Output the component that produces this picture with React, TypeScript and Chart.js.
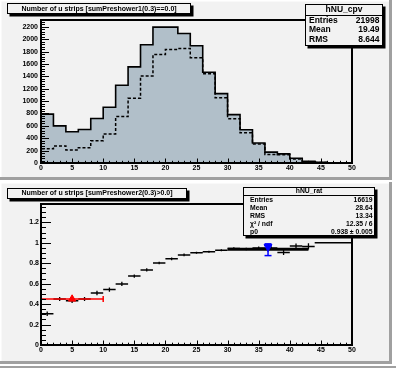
import React, { useEffect, useRef } from 'react';
import { Chart, registerables } from 'chart.js';
Chart.register(...registerables);

// ---------- data ----------
const BIN_EDGES = [0, 2, 4, 6, 8, 10, 12, 14, 16, 18, 20, 22, 24, 26, 28, 30, 32, 34, 36, 38, 40, 42, 44, 46, 48, 50];
const CPV_SOLID = [790, 600, 505, 540, 720, 900, 1255, 1552, 1910, 2195, 2195, 2092, 1895, 1465, 1120, 782, 536, 323, 175, 148, 77, 28, 11, 3, 0];
const CPV_DASHED = [230, 275, 208, 246, 358, 470, 750, 1046, 1406, 1752, 1834, 1848, 1702, 1440, 1054, 716, 487, 306, 137, 135, 65, 22, 8, 2, 0];
const X_TICKS = [0, 5, 10, 15, 20, 25, 30, 35, 40, 45, 50];
const Y_TICKS_TOP = [0, 200, 400, 600, 800, 1000, 1200, 1400, 1600, 1800, 2000, 2200];
const Y_TICKS_BOTTOM = [0, 0.2, 0.4, 0.6, 0.8, 1, 1.2];
const RAT_VALUES = [0.305, 0.45, 0.432, 0.45, 0.51, 0.542, 0.598, 0.675, 0.735, 0.803, 0.843, 0.882, 0.902, 0.912, 0.927, 0.945, 0.94, 0.95, 0.95, 0.905, 0.968, 0.965, 1.0, 1.0, 1.0];
const RAT_ERRORS = [0.022, 0.02, 0.02, 0.02, 0.022, 0.02, 0.02, 0.016, 0.016, 0.013, 0.013, 0.013, 0.01, 0.01, 0.01, 0.012, 0.012, 0.014, 0.016, 0.025, 0.025, 0.03, 0, 0, 0];
const FIT_X = [30, 43];
const FIT_P0 = 0.938;
const RED_X = [5];
const RED_Y = [0.45];
const RED_XERR = [5];
const BLUE_X = [36.5];
const BLUE_Y = [0.96];
const BLUE_YLO = [0.875];
const BLUE_YHI = [0.99];
const TOP_STATS = [['Entries', '21998'], ['Mean', '19.49'], ['RMS', '8.644']];
const BOTTOM_STATS = [['Entries', '16619'], ['Mean', '28.64'], ['RMS', '13.34'], ['\u03C7\u00B2 / ndf', '12.35 / 6'], ['p0', '0.938 \u00B1 0.005']];

// ---------- styles ----------
const BG = '#f2f2f2';
const BEVEL = '#a0a0a0';
const FILL = '#b1bfc9';
const FONT = '"Liberation Sans", Arial, sans-serif';

const fmt = (v: number) => String(Math.round(v * 100) / 100);

function histPoints(vals: number[]) {
  const pts: { x: number; y: number }[] = [{ x: BIN_EDGES[0], y: 0 }];
  vals.forEach((v, i) => pts.push({ x: BIN_EDGES[i], y: v }));
  pts.push({ x: BIN_EDGES[BIN_EDGES.length - 1], y: 0 });
  return pts;
}

type Deco = {
  padH: number; // pad height in canvas
  title: string; titleBox: [number, number, number, number]; titleY: number;
  statsName: string; stats: string[][]; statsBox: [number, number, number, number];
  headerLine: number; headerY: number; rowYs: number[]; labelX: number; valueX: number; statsFont: number;
  xMajorLen: number; xMinorLen: number; yMajorLen: number; yMinorLen: number;
  yMinorStep: number; yMax: number;
};

function decoPlugin(d: Deco) {
  return {
    id: 'deco',
    beforeDraw(chart: any) {
      const ctx = chart.ctx;
      const W = chart.width, H = chart.height;
      ctx.save();
      ctx.fillStyle = '#ffffff';
      ctx.fillRect(0, 0, W, H);
      ctx.fillStyle = BG;
      ctx.fillRect(0, 0, 392, d.padH);
      ctx.fillStyle = '#ffffff';
      ctx.fillRect(0, 0, 392, 1.5);
      ctx.fillRect(0, 0, 1.5, d.padH);
      ctx.fillStyle = BEVEL;
      ctx.fillRect(389, 0, 3, d.padH);
      ctx.fillRect(0, d.padH - 3, 392, 3);
      if (H > d.padH + 3) {
        ctx.fillRect(0, H - 2, W, 2);
      }
      ctx.restore();
    },
    afterDatasetsDraw(chart: any) {
      const ctx = chart.ctx;
      const a = chart.chartArea;
      const xs = chart.scales.x, ys = chart.scales.y;
      ctx.save();
      ctx.strokeStyle = '#000';
      ctx.lineWidth = 1;
      ctx.beginPath();
      for (let v = 0; v <= 50; v += 1) {
        const px = Math.round(xs.getPixelForValue(v)) + 0.5;
        const len = v % 5 === 0 ? d.xMajorLen : d.xMinorLen;
        ctx.moveTo(px, a.bottom);
        ctx.lineTo(px, a.bottom - len);
      }
      const nMinor = Math.floor(d.yMax / d.yMinorStep + 1e-6);
      const majorStep = Y_TICKS_BOTTOM.length && d.yMax < 10 ? 0.2 : 200;
      for (let i = 0; i <= nMinor; i++) {
        const v = i * d.yMinorStep;
        const py = Math.round(ys.getPixelForValue(v)) + 0.5;
        const isMajor = Math.abs(v / majorStep - Math.round(v / majorStep)) < 1e-6;
        ctx.moveTo(a.left, py);
        ctx.lineTo(a.left + (isMajor ? d.yMajorLen : d.yMinorLen), py);
      }
      ctx.stroke();
      ctx.lineWidth = 2;
      ctx.strokeRect(Math.round(a.left), Math.round(a.top), Math.round(a.right - a.left), Math.round(a.bottom - a.top));
      ctx.restore();
    },
    afterDraw(chart: any) {
      const ctx = chart.ctx;
      ctx.save();
      // title box
      const [tx, ty, tw, th] = d.titleBox;
      ctx.fillStyle = '#000';
      ctx.fillRect(tx + 2.5, ty + 2.5, tw, th);
      ctx.fillStyle = BG;
      ctx.fillRect(tx, ty, tw, th);
      ctx.strokeStyle = '#000';
      ctx.lineWidth = 1;
      ctx.strokeRect(tx + 0.5, ty + 0.5, tw - 1, th - 1);
      ctx.fillStyle = '#000';
      ctx.font = `bold 7px ${FONT}`;
      ctx.textAlign = 'center';
      ctx.textBaseline = 'middle';
      ctx.fillText(d.title, tx + tw / 2, d.titleY);
      // stats box
      const [sx, sy, sw, sh] = d.statsBox;
      ctx.fillStyle = '#000';
      ctx.fillRect(sx + 2.5, sy + 2.5, sw, sh);
      ctx.fillStyle = BG;
      ctx.fillRect(sx, sy, sw, sh);
      ctx.strokeRect(sx + 0.5, sy + 0.5, sw - 1, sh - 1);
      ctx.beginPath();
      ctx.moveTo(sx, d.headerLine + 0.5);
      ctx.lineTo(sx + sw, d.headerLine + 0.5);
      ctx.stroke();
      ctx.fillStyle = '#000';
      ctx.font = `bold ${d.statsFont}px ${FONT}`;
      ctx.textAlign = 'center';
      ctx.fillText(d.statsName, sx + sw / 2, d.headerY);
      d.stats.forEach((row, i) => {
        ctx.textAlign = 'left';
        ctx.fillText(row[0], d.labelX, d.rowYs[i]);
        ctx.textAlign = 'right';
        ctx.fillText(row[1], d.valueX, d.rowYs[i]);
      });
      ctx.restore();
    },
  };
}

function axisCommon(min: number, max: number, ticks: number[], size: number, fitProp: 'width' | 'height', pad: number) {
  return {
    type: 'linear' as const,
    min, max,
    grid: { display: false, drawTicks: false },
    border: { display: false },
    ticks: {
      color: '#000',
      padding: pad,
      autoSkip: false,
      maxRotation: 0,
      font: { family: FONT, size: 7, weight: 'bold' as const },
      callback: (v: any) => fmt(Number(v)),
    },
    afterBuildTicks: (s: any) => { s.ticks = ticks.map((v) => ({ value: v })); },
    afterFit: (s: any) => { s[fitProp] = size; },
  };
}

function TopChart() {
  const ref = useRef<HTMLCanvasElement>(null);
  useEffect(() => {
    const chart = new Chart(ref.current!, {
      type: 'line',
      data: {
        datasets: [
          { data: histPoints(CPV_DASHED), borderColor: '#000', borderWidth: 1.5, borderDash: [3, 2], stepped: 'before', pointRadius: 0, fill: false } as any,
          { data: histPoints(CPV_SOLID), borderColor: '#000', borderWidth: 1.6, stepped: 'before', pointRadius: 0, fill: 'origin', backgroundColor: FILL } as any,
        ],
      },
      options: {
        responsive: false, animation: false, events: [],
        layout: { padding: { left: 0, right: 44, top: 20, bottom: 0 } },
        plugins: { legend: { display: false }, tooltip: { enabled: false } },
        scales: {
          x: axisCommon(0, 50, X_TICKS, 19, 'height', 1) as any,
          y: axisCommon(0, 2310, Y_TICKS_TOP, 41, 'width', 3) as any,
        },
      },
      plugins: [decoPlugin({
        padH: 180,
        title: 'Number of u strips [sumPreshower1(0.3)==0.0]', titleBox: [7, 3, 184, 11], titleY: 8.7,
        statsName: 'hNU_cpv', stats: TOP_STATS, statsBox: [305, 4, 78, 42],
        headerLine: 15, headerY: 9.8, rowYs: [20.8, 30, 39.2], labelX: 309, valueX: 379.5, statsFont: 8.5,
        xMajorLen: 4.5, xMinorLen: 2.2, yMajorLen: 8, yMinorLen: 4, yMinorStep: 40, yMax: 2310,
      }) as any],
    });
    return () => chart.destroy();
  }, []);
  return <canvas ref={ref} width={396} height={182} style={{ position: 'absolute', left: 0, top: 0 }} />;
}

function BottomChart() {
  const ref = useRef<HTMLCanvasElement>(null);
  useEffect(() => {
    const hBars: any[] = [];
    const vBars: any[] = [];
    RAT_VALUES.forEach((v, i) => {
      const lo = BIN_EDGES[i], hi = BIN_EDGES[i + 1], c = (lo + hi) / 2;
      hBars.push({ x: lo, y: v }, { x: hi, y: v }, { x: hi, y: null });
      if (RAT_ERRORS[i] > 0) vBars.push({ x: c, y: v - RAT_ERRORS[i] }, { x: c, y: v + RAT_ERRORS[i] }, { x: c, y: null });
    });
    const redBar = [{ x: RED_X[0] - RED_XERR[0], y: RED_Y[0] }, { x: RED_X[0] + RED_XERR[0], y: RED_Y[0] }];
    const blueBar = [{ x: BLUE_X[0], y: BLUE_YLO[0] }, { x: BLUE_X[0], y: BLUE_YHI[0] }];
    const chart = new Chart(ref.current!, {
      type: 'line',
      data: {
        datasets: [
          { data: [{ x: BLUE_X[0], y: BLUE_Y[0] }], showLine: false, pointStyle: 'triangle', rotation: 180, pointRadius: 4.6, pointBackgroundColor: '#0000ff', pointBorderColor: '#0000ff', pointBorderWidth: 1 },
          { data: blueBar, showLine: false, pointStyle: 'line', rotation: 0, pointRadius: 3.5, pointBorderColor: '#0000ff', pointBorderWidth: 1.5 },
          { data: blueBar, borderColor: '#0000ff', borderWidth: 1.5, pointRadius: 0 },
          { data: [{ x: RED_X[0], y: RED_Y[0] }], showLine: false, pointStyle: 'triangle', rotation: 0, pointRadius: 4.2, pointBackgroundColor: '#ff0000', pointBorderColor: '#ff0000', pointBorderWidth: 1 },
          { data: redBar, showLine: false, pointStyle: 'line', rotation: 90, pointRadius: 3, pointBorderColor: '#ff0000', pointBorderWidth: 1.5 },
          { data: redBar, borderColor: '#ff0000', borderWidth: 1.5, pointRadius: 0 },
          { data: FIT_X.map((x) => ({ x, y: FIT_P0 })), borderColor: '#000', borderWidth: 3, pointRadius: 0 },
          { data: vBars, borderColor: '#000', borderWidth: 1.3, pointRadius: 0, spanGaps: false },
          { data: hBars, borderColor: '#000', borderWidth: 1.5, pointRadius: 0, spanGaps: false },
        ] as any,
      },
      options: {
        responsive: false, animation: false, events: [],
        layout: { padding: { left: 0, right: 44, top: 22, bottom: 0 } },
        plugins: { legend: { display: false }, tooltip: { enabled: false } },
        scales: {
          x: axisCommon(0, 50, X_TICKS, 23, 'height', 1) as any,
          y: axisCommon(0, 1.38, Y_TICKS_BOTTOM, 41, 'width', 2) as any,
        },
      },
      plugins: [decoPlugin({
        padH: 182,
        title: 'Number of u strips [sumPreshower2(0.3)>0.0]', titleBox: [7, 6, 180, 11], titleY: 11.3,
        statsName: 'hNU_rat', stats: BOTTOM_STATS, statsBox: [243, 5, 132, 49],
        headerLine: 13, headerY: 9.3, rowYs: [18, 26.2, 34, 41.8, 49.8], labelX: 250, valueX: 372.5, statsFont: 6.8,
        xMajorLen: 4.5, xMinorLen: 2.3, yMajorLen: 10, yMinorLen: 5, yMinorStep: 0.05, yMax: 1.38,
      }) as any],
    });
    return () => chart.destroy();
  }, []);
  return <canvas ref={ref} width={396} height={186} style={{ position: 'absolute', left: 0, top: 182 }} />;
}

export default function App() {
  return (
    <div style={{ position: 'fixed', left: 0, top: 0, width: 396, height: 368, background: '#ffffff', overflow: 'hidden' }}>
      <TopChart />
      <BottomChart />
    </div>
  );
}
